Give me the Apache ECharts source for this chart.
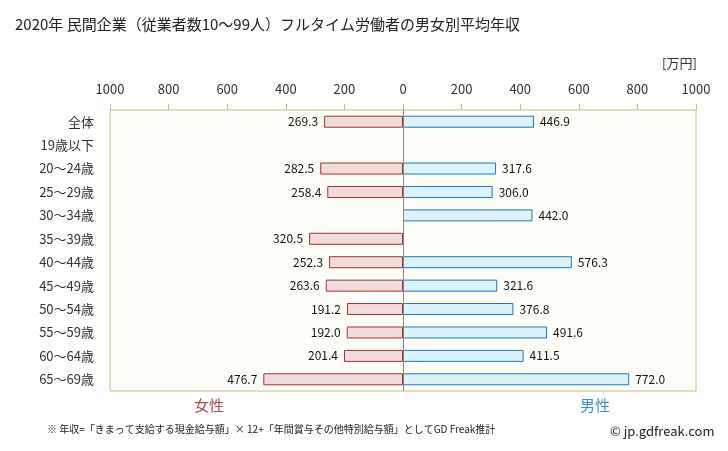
<!DOCTYPE html>
<html><head><meta charset="utf-8">
<script src="https://cdn.jsdelivr.net/npm/echarts@6/dist/echarts.min.js"></script>
<style>html,body{margin:0;padding:0;background:#fff}#c{width:728px;height:451px}</style>
</head><body><div id="c"></div>
<script>
const categories = ['全体','19歳以下','20～24歳','25～29歳','30～34歳','35～39歳','40～44歳','45～49歳','50～54歳','55～59歳','60～64歳','65～69歳'];
const female = [269.3, null, 282.5, 258.4, null, 320.5, 252.3, 263.6, 191.2, 192.0, 201.4, 476.7];
const male = [446.9, null, 317.6, 306.0, 442.0, null, 576.3, 321.6, 376.8, 491.6, 411.5, 772.0];
const tickMin = -1000, tickMax = 1000, tickStep = 200;

const F = '"Noto Sans CJK JP", "DejaVu Sans", sans-serif';
const chart = echarts.init(document.getElementById('c'));
chart.setOption({
  animation: false,
  textStyle: {fontFamily: F},
  title: {text: '2020年 民間企業（従業者数10～99人）フルタイム労働者の男女別平均年収', left: 10, top: 12,
    textStyle: {fontSize: 15, fontWeight: 'normal', color: '#222', fontFamily: F}},
  grid: {left: 110, right: 32, top: 110, bottom: 60, show: true, backgroundColor: '#fffffa', borderColor: '#c8b98a', borderWidth: 1},
  xAxis: {type: 'value', position: 'top', min: tickMin, max: tickMax, interval: tickStep,
    axisLine: {show: false}, splitLine: {show: false},
    axisTick: {show: true, length: 6, lineStyle: {color: '#c8b98a'}},
    axisLabel: {formatter: v => Math.abs(v), fontSize: 13, color: '#333', margin: 14}},
  yAxis: {type: 'category', data: categories, inverse: true,
    axisLine: {show: false}, axisTick: {show: false},
    axisLabel: {fontSize: 13, color: '#333', margin: 16}},
  series: [
    {type: 'bar', name: '女性', data: female.map(v => v == null ? null : -v), barWidth: 12, barGap: '-100%',
      itemStyle: {color: '#f2dcdb', borderColor: '#a0322e', borderWidth: 1},
      label: {show: true, position: 'left', formatter: p => Math.abs(p.value).toFixed(1), fontSize: 12, color: '#111', distance: 6},
      markLine: {silent: true, symbol: 'none', label: {show: false}, lineStyle: {color: '#888', type: 'solid', width: 1},
        data: [{xAxis: 0}]}},
    {type: 'bar', name: '男性', data: male, barWidth: 12,
      itemStyle: {color: '#dbf3fd', borderColor: '#1f74c0', borderWidth: 1},
      label: {show: true, position: 'right', formatter: p => p.value.toFixed(1), fontSize: 12, color: '#111', distance: 6}}
  ],
  graphic: [
    {type: 'text', left: 662, top: 57, style: {text: '[万円]', fontSize: 13, fill: '#333', fontFamily: F}},
    {type: 'text', left: 194, top: 398, style: {text: '女性', fontSize: 15, fill: '#b24a4a', fontFamily: F}},
    {type: 'text', left: 580, top: 398, style: {text: '男性', fontSize: 15, fill: '#3a8ed0', fontFamily: F}},
    {type: 'text', left: 47, top: 424, style: {text: '※ 年収=「きまって支給する現金給与額」× 12+「年間賞与その他特別給与額」としてGD Freak推計', fontSize: 10, fill: '#222', fontFamily: F}},
    {type: 'text', left: 610, top: 425, style: {text: '© jp.gdfreak.com', fontSize: 13, fill: '#222', fontFamily: F}}
  ]
});
</script></body></html>
